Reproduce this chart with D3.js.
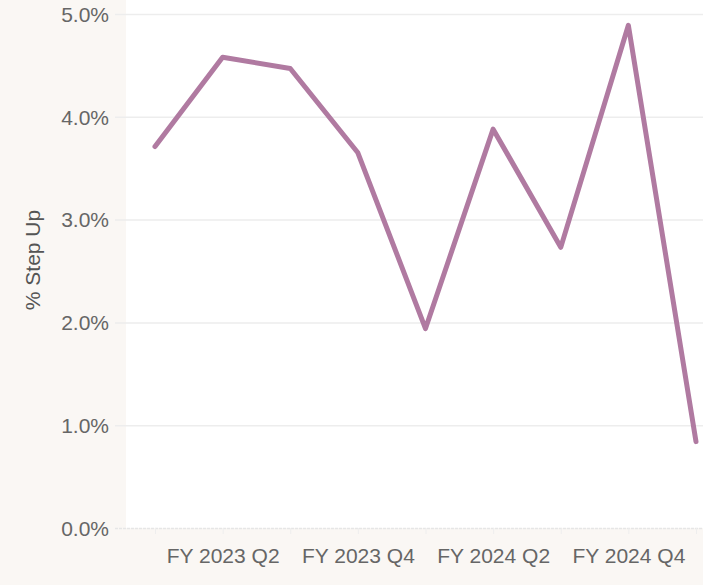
<!DOCTYPE html>
<html>
<head>
<meta charset="utf-8">
<script src="https://cdn.jsdelivr.net/npm/d3@7"></script>
<style>
  body { margin: 0; background: #faf7f4; }
  svg { display: block; font-family: "Liberation Sans", Arial, sans-serif; }
</style>
</head>
<body>
<svg class="chart" width="703" height="585"></svg>
<script>
// quarters and % step up values
const quarters = ["FY 2023 Q1", "FY 2023 Q2", "FY 2023 Q3", "FY 2023 Q4",
  "FY 2024 Q1", "FY 2024 Q2", "FY 2024 Q3", "FY 2024 Q4", "FY 2025 Q1"];
const stepUp = [3.71, 4.58, 4.47, 3.65, 1.94, 3.88, 2.73, 4.89, 0.84];
const yTicks = [0, 1, 2, 3, 4, 5];
const xLabels = ["FY 2023 Q2", "FY 2023 Q4", "FY 2024 Q2", "FY 2024 Q4"];

const data = quarters.map((q, i) => ({ q: q, v: stepUp[i] }));

const svg = d3.select(".chart");
const plotLeft = 126;
const plotBottom = 528;

// Set the scales
const xScale = d3.scalePoint().domain(quarters).range([155, 696]);
const yScale = d3.scaleLinear().domain([0, 5]).range([plotBottom, 14]);

// white plot background
svg.append("rect")
  .attr("x", plotLeft)
  .attr("y", 0)
  .attr("width", 703 - plotLeft)
  .attr("height", plotBottom)
  .attr("fill", "#ffffff");

// gridlines + y labels
const yAxis = svg.append("g")
  .attr("transform", "translate(115,0)")
  .call(d3.axisLeft(yScale)
    .tickValues(yTicks)
    .tickSize(-600)
    .tickPadding(6)
    .tickFormat(d => d.toFixed(1) + "%"));
yAxis.select(".domain").remove();
yAxis.selectAll("line").attr("stroke", "#ededed").attr("stroke-width", 1.5);
yAxis.selectAll("line").filter(d => d === 0).attr("stroke", "#e6e6e6").attr("stroke-dasharray", "3,1");
yAxis.selectAll("text")
  .attr("fill", "#666666")
  .style("font-size", "21px")
  .attr("dy", "0.35em");

// x axis
const xAxis = svg.append("g")
  .attr("transform", `translate(0,${plotBottom})`)
  .call(d3.axisBottom(xScale).tickSize(6).tickPadding(14)
    .tickFormat(d => xLabels.includes(d) ? d : ""));
xAxis.select(".domain").remove();
xAxis.selectAll("line").attr("stroke", "#eeeeee");
xAxis.selectAll("text")
  .attr("fill", "#666666")
  .style("font-size", "21px");

// Y axis title
svg.append("text")
  .attr("transform", "rotate(-90)")
  .attr("x", -260)
  .attr("y", 40)
  .attr("text-anchor", "middle")
  .attr("fill", "#555555")
  .style("font-size", "21px")
  .text("% Step Up");

// the line
const line = d3.line()
  .x(d => xScale(d.q))
  .y(d => yScale(d.v));

svg.append("path")
  .datum(data)
  .attr("d", line)
  .attr("fill", "none")
  .attr("stroke", "#b07aa1")
  .attr("stroke-width", 5)
  .attr("stroke-linejoin", "round")
  .attr("stroke-linecap", "round");
</script>
</body>
</html>
